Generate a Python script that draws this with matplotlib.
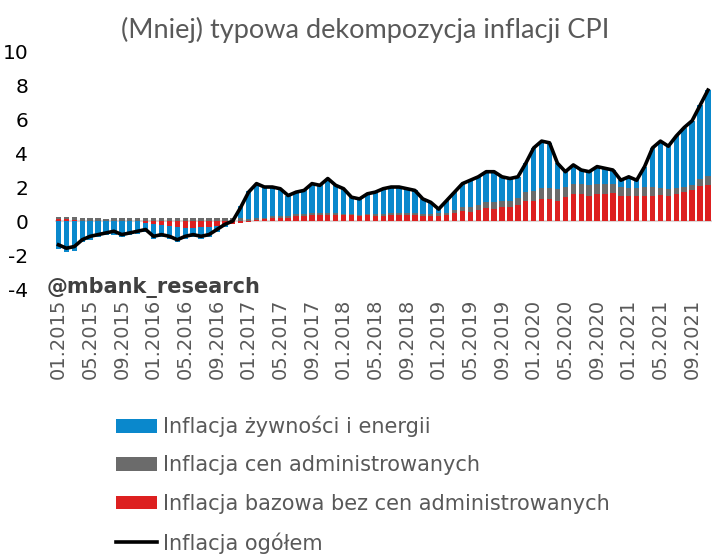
# Dekompozycja inflacji CPI: wklady (bazowa bez adm., ceny adm., zywnosc i energia) + CPI ogolem

import numpy as np
import matplotlib
matplotlib.use('Agg')
import matplotlib.pyplot as plt

# miesiace 01.2015 - 11.2021
months = [f"{m:02d}.{y}" for y in range(2015, 2022) for m in range(1, 13)][:83]

# CPI ogolem, r/r
cpi_total = [-1.4, -1.6, -1.5, -1.1, -0.9, -0.8, -0.7, -0.6, -0.8, -0.7, -0.6, -0.5,
             -0.9, -0.8, -0.9, -1.1, -0.9, -0.8, -0.9, -0.8, -0.5, -0.2, 0.0, 0.8,
             1.7, 2.2, 2.0, 2.0, 1.9, 1.5, 1.7, 1.8, 2.2, 2.1, 2.5, 2.1,
             1.9, 1.4, 1.3, 1.6, 1.7, 1.9, 2.0, 2.0, 1.9, 1.8, 1.3, 1.1,
             0.7, 1.2, 1.7, 2.2, 2.4, 2.6, 2.9, 2.9, 2.6, 2.5, 2.6, 3.4,
             4.3, 4.7, 4.6, 3.4, 2.9, 3.3, 3.0, 2.9, 3.2, 3.1, 3.0, 2.4,
             2.6, 2.4, 3.2, 4.3, 4.7, 4.4, 5.0, 5.5, 5.9, 6.8, 7.7]

# wklad inflacji bazowej bez cen administrowanych
core_ex_adm = [0.1, 0.1, 0.05, 0.0, 0.0, 0.0, 0.0, 0.0, 0.0, 0.0, 0.0, -0.1,
               -0.2, -0.25, -0.3, -0.35, -0.4, -0.4, -0.35, -0.35, -0.3, -0.2, -0.2, -0.1,
               -0.05, 0.05, 0.1, 0.2, 0.2, 0.2, 0.3, 0.3, 0.35, 0.35, 0.35, 0.35,
               0.35, 0.35, 0.3, 0.35, 0.3, 0.3, 0.35, 0.35, 0.35, 0.35, 0.3, 0.3,
               0.3, 0.35, 0.45, 0.6, 0.55, 0.65, 0.75, 0.7, 0.85, 0.85, 0.95, 1.2,
               1.15, 1.3, 1.3, 1.2, 1.4, 1.6, 1.6, 1.5, 1.6, 1.6, 1.65, 1.45,
               1.45, 1.45, 1.5, 1.5, 1.55, 1.5, 1.6, 1.7, 1.8, 2.05, 2.1]

# wklad cen administrowanych
administered = [0.15, 0.15, 0.2, 0.15, 0.2, 0.15, 0.1, 0.2, 0.15, 0.15, 0.15, 0.15,
                0.15, 0.15, 0.15, 0.15, 0.15, 0.15, 0.15, 0.15, 0.15, 0.15, 0.15, 0.15,
                0.1, 0.1, 0.1, 0.1, 0.1, 0.1, 0.1, 0.1, 0.1, 0.1, 0.1, 0.1,
                0.05, 0.05, 0.05, 0.05, 0.1, 0.1, 0.1, 0.1, 0.1, 0.1, 0.1, 0.1,
                0.15, 0.15, 0.2, 0.25, 0.3, 0.3, 0.35, 0.4, 0.35, 0.35, 0.4, 0.5,
                0.6, 0.65, 0.65, 0.7, 0.6, 0.55, 0.55, 0.6, 0.55, 0.55, 0.5, 0.55,
                0.5, 0.5, 0.5, 0.5, 0.4, 0.4, 0.35, 0.3, 0.3, 0.4, 0.55]

# wklad zywnosci i energii
food_energy = [-1.65, -1.85, -1.75, -1.25, -1.1, -0.95, -0.8, -0.8, -0.95, -0.85, -0.75, -0.55,
               -0.85, -0.7, -0.75, -0.9, -0.65, -0.55, -0.7, -0.6, -0.35, -0.15, 0.05, 0.75,
               1.65, 2.05, 1.8, 1.7, 1.6, 1.2, 1.3, 1.4, 1.75, 1.65, 2.05, 1.65,
               1.5, 1.0, 0.95, 1.2, 1.3, 1.5, 1.55, 1.55, 1.45, 1.35, 0.9, 0.7,
               0.25, 0.7, 1.05, 1.35, 1.55, 1.65, 1.8, 1.8, 1.4, 1.3, 1.25, 1.7,
               2.55, 2.75, 2.65, 1.5, 0.9, 1.15, 0.85, 0.8, 1.05, 0.95, 0.85, 0.4,
               0.65, 0.45, 1.2, 2.3, 2.75, 2.5, 3.05, 3.5, 3.8, 4.35, 5.05]

tick_idx = list(range(0, 83, 4))

fig = plt.figure(figsize=(7.28, 5.6), dpi=100)
ax = fig.add_axes([0.0749, 0.4839, 0.903, 0.425])

x = np.arange(len(months))
pos_base = np.zeros(len(x))
neg_base = np.zeros(len(x))
handles = {}
for name, vals, col in [('red', core_ex_adm, '#DD2020'),
                        ('gray', administered, '#6B6B6B'),
                        ('blue', food_energy, '#0A88CC')]:
    v = np.array(vals)
    bottom = np.where(v >= 0, pos_base, neg_base)
    handles[name] = ax.bar(x, v, bottom=bottom, width=0.68, color=col, zorder=2)
    pos_base = pos_base + np.where(v > 0, v, 0)
    neg_base = neg_base + np.where(v < 0, v, 0)

ax.axhline(0, color='#DDD5D5', lw=1.5, zorder=1)
line, = ax.plot(x, cpi_total, color='black', lw=2.6, zorder=3, solid_joinstyle='round')

ax.set_xlim(-0.5, 82.5)
ax.set_ylim(-4, 10)
ax.set_yticks(range(-4, 11, 2))
ax.set_yticklabels([str(t) for t in range(-4, 11, 2)], fontsize=14.5, color='black')
ax.set_xticks(tick_idx)
ax.set_xticklabels([months[i] for i in tick_idx], rotation=90, fontsize=14,
                   color='#595959')
ax.tick_params(axis='y', length=0, pad=19)
ax.tick_params(axis='x', length=0, pad=7)
for s in ax.spines.values():
    s.set_visible(False)

fig.text(0.502, 0.946, '(Mniej) typowa dekompozycja inflacji CPI', family='Lato',
         fontsize=19.5, color='#595959', ha='center', va='center')
fig.text(0.0646, 0.486, '@mbank_research', fontsize=15, fontweight='bold',
         color='#404040', ha='left', va='center')

fig.legend([handles['blue'], handles['gray'], handles['red'], line],
           ['Inflacja żywności i energii', 'Inflacja cen administrowanych',
            'Inflacja bazowa bez cen administrowanych', 'Inflacja ogółem'],
           loc='upper left', bbox_to_anchor=(0.159, 0.258), frameon=False,
           fontsize=15, labelcolor='#595959', handlelength=2.0,
           handletextpad=0.25, labelspacing=0.88, handleheight=0.63,
           borderpad=0, borderaxespad=0)

fig.savefig('out.png', dpi=100)
